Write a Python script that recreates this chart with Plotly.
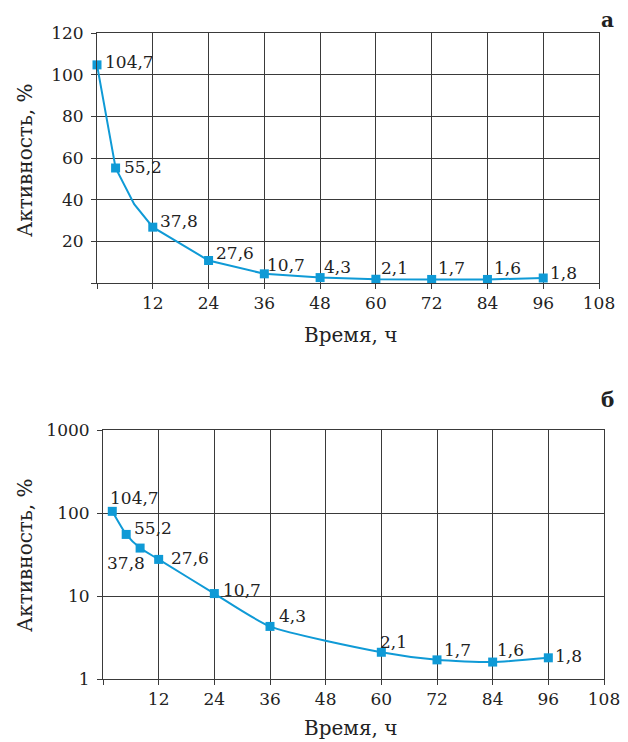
import plotly.graph_objects as go

# ---- data ----
# panel а (linear scale): line vertices and marked points
time_a_line = [0, 4, 8, 12, 24, 36, 48, 60, 72, 84, 96]
act_a_line = [104.7, 55.2, 37.8, 26.8, 10.8, 4.4, 2.6, 1.8, 1.7, 1.7, 2.4]
time_a_pts = [0, 4, 12, 24, 36, 48, 60, 72, 84, 96]
act_a_pts = [104.7, 55.2, 26.8, 10.8, 4.4, 2.6, 1.8, 1.7, 1.7, 2.4]
labels_a = ["104,7", "55,2", "37,8", "27,6", "10,7", "4,3", "2,1", "1,7", "1,6", "1,8"]

# panel б (log scale)
time_b = [2, 5, 8, 12, 24, 36, 60, 72, 84, 96]
act_b = [104.7, 55.2, 37.8, 27.6, 10.7, 4.3, 2.1, 1.7, 1.6, 1.8]
labels_b = ["104,7", "55,2", "37,8", "27,6", "10,7", "4,3", "2,1", "1,7", "1,6", "1,8"]

x_ticks = [0, 12, 24, 36, 48, 60, 72, 84, 96, 108]
x_ticktext = ["", "12", "24", "36", "48", "60", "72", "84", "96", "108"]
ya_ticks = [0, 20, 40, 60, 80, 100, 120]
ya_ticktext = ["", "20", "40", "60", "80", "100", "120"]
yb_ticks = [1, 10, 100, 1000]
yb_ticktext = ["1", "10", "100", "1000"]

# ---- style ----
BLUE = "#0f9ad6"
FONT = "DejaVu Serif"
TXT = "#222222"
GRID = "#3a3a3a"

# label offsets in pixels (xshift, yshift, xanchor)
off_a = [(6, 3, "left"), (6, 1, "left"), (5, 6, "left"), (5, 8, "left"), (1, 9, "left"),
         (2, 11, "left"), (3, 11, "left"), (4, 11, "left"), (5, 11, "left"), (5, 5, "left")]
off_b = [(-4, 13, "left"), (6, 6, "left"), (-14, -15, "center"), (10, 1, "left"), (7, 4, "left"),
         (7, 10, "left"), (-3, 10, "left"), (5, 10, "left"), (2, 12, "left"), (5, 2, "left")]

# page has an 8px body margin: figure is drawn at (8,8)
OFF = 8
W, H = 628 - OFF, 742 - OFF
def px(x):
    return (x - OFF) / W
def py(y):
    return 1 - (y - OFF) / H

fig = go.Figure()
fig.add_trace(go.Scatter(x=time_a_line, y=act_a_line, mode="lines",
                         line=dict(color=BLUE, width=2), xaxis="x", yaxis="y",
                         hoverinfo="skip", cliponaxis=False))
fig.add_trace(go.Scatter(x=time_a_pts, y=act_a_pts, mode="markers",
                         marker=dict(symbol="square", size=9, color=BLUE),
                         xaxis="x", yaxis="y", cliponaxis=False))
fig.add_trace(go.Scatter(x=time_b, y=act_b, mode="lines+markers",
                         line=dict(color=BLUE, width=2, shape="spline", smoothing=0.6),
                         marker=dict(symbol="square", size=9, color=BLUE),
                         xaxis="x2", yaxis="y2", cliponaxis=False))

axis_common = dict(showgrid=True, gridcolor=GRID, gridwidth=1, showline=True,
                   linecolor=GRID, linewidth=1, mirror=True, zeroline=False,
                   ticks="outside", ticklen=5, tickcolor=GRID, automargin=False,
                   tickfont=dict(family=FONT, size=17, color=TXT))

fig.update_layout(
    width=W, height=H, showlegend=False,
    paper_bgcolor="white", plot_bgcolor="white",
    margin=dict(l=0, r=0, t=0, b=0, pad=0, autoexpand=False),
    font=dict(family=FONT),
    xaxis=dict(domain=[px(97), px(599)], range=[0, 108], tickvals=x_ticks,
               ticktext=x_ticktext, anchor="y", **axis_common),
    yaxis=dict(domain=[py(283), py(33)], range=[0, 120], tickvals=ya_ticks,
               ticktext=ya_ticktext, anchor="x", ticklabelstandoff=4, **axis_common),
    xaxis2=dict(domain=[px(103), px(604)], range=[0, 108], tickvals=x_ticks,
                ticktext=x_ticktext, anchor="y2", **axis_common),
    yaxis2=dict(domain=[py(679), py(430)], type="log", range=[0, 3],
                tickvals=yb_ticks, ticktext=yb_ticktext, anchor="x2",
                ticklabelstandoff=4, **axis_common),
)

lab_font = dict(family=FONT, size=17, color=TXT)
for xv, yv, t, (dx, dy, xa) in zip(time_a_pts, act_a_pts, labels_a, off_a):
    fig.add_annotation(x=xv, y=yv, xref="x", yref="y", text=t, showarrow=False,
                       xanchor=xa, yanchor="middle", xshift=dx, yshift=dy, font=lab_font)
for xv, yv, t, (dx, dy, xa) in zip(time_b, act_b, labels_b, off_b):
    import math
    fig.add_annotation(x=xv, y=math.log10(yv), xref="x2", yref="y2", text=t, showarrow=False,
                       xanchor=xa, yanchor="middle", xshift=dx, yshift=dy, font=lab_font)

ann_font = dict(family=FONT, size=20, color=TXT)
for yc in (160, 555):
    fig.add_annotation(text="Активность, %", x=px(25), y=py(yc), xref="paper", yref="paper",
                       xanchor="center", yanchor="middle",
                       textangle=-90, showarrow=False, font=ann_font)
for yc in (335, 728):
    fig.add_annotation(text="Время, ч", x=px(350), y=py(yc), xref="paper", yref="paper",
                       xanchor="center", yanchor="middle", showarrow=False, font=ann_font)
fig.add_annotation(text="<b>а</b>", x=px(607), y=py(20), xref="paper", yref="paper",
                   xanchor="center", yanchor="middle", showarrow=False, font=ann_font)
fig.add_annotation(text="<b>б</b>", x=px(607), y=py(400), xref="paper", yref="paper",
                   xanchor="center", yanchor="middle", showarrow=False, font=ann_font)

fig.write_html("out.html")
